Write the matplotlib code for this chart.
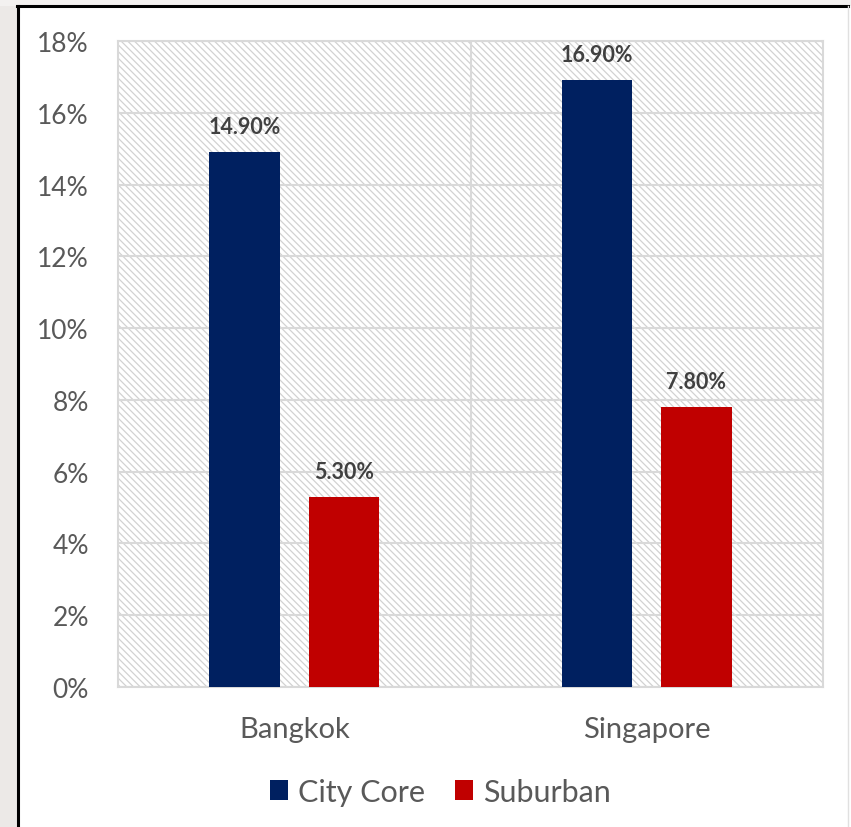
import numpy as np
import matplotlib
matplotlib.use("Agg")
import matplotlib.pyplot as plt
from matplotlib.patches import Rectangle
from matplotlib.lines import Line2D

cities = ["Bangkok", "Singapore"]
series_names = ["City Core", "Suburban"]
city_core = [14.9, 16.9]
suburban = [5.3, 7.8]
y_ticks = [0, 2, 4, 6, 8, 10, 12, 14, 16, 18]

NAVY = "#002060"
RED = "#C00000"
GRID = "#d9d9d9"
TEXT = "#595959"

plt.rcParams["font.family"] = ["Lato", "DejaVu Sans"]
plt.rcParams["hatch.linewidth"] = 0.9

fig = plt.figure(figsize=(8.51, 8.28), dpi=100)
fig.patch.set_facecolor("white")

# slide-style frame around the chart
fig.patches.append(Rectangle((0, 0), 17 / 851, 1, transform=fig.transFigure,
                             facecolor="#ece9e7", edgecolor="none", zorder=0))
fig.patches.append(Rectangle((0, 1 - 7 / 828), 1, 7 / 828, transform=fig.transFigure,
                             facecolor="#f3f1f0", edgecolor="none", zorder=0))
fig.lines.append(Line2D([18 / 851, 18 / 851], [0, 1 - 7 / 828], transform=fig.transFigure,
                        color="black", lw=2.2))
fig.lines.append(Line2D([17 / 851, 848 / 851], [1 - 7 / 828, 1 - 7 / 828],
                        transform=fig.transFigure, color="black", lw=2.2))
fig.lines.append(Line2D([848 / 851, 848 / 851], [0, 1 - 7 / 828], transform=fig.transFigure,
                        color="#e0e0e0", lw=1.0))

ax = fig.add_axes([118 / 851, 1 - 688 / 828, 705 / 851, 646 / 828])
ax.set_facecolor("white")

# hatched plot area background
ax.add_patch(Rectangle((0, 0), 1, 1, transform=ax.transAxes, facecolor="white",
                       edgecolor="#d2d2d2", linewidth=0, hatch="\\" * 5, zorder=0))

x = np.arange(len(cities))
width = 0.2
offset = 0.141

bars1 = ax.bar(x - offset, city_core, width, color=NAVY, label=series_names[0], zorder=3)
bars2 = ax.bar(x + offset, suburban, width, color=RED, label=series_names[1], zorder=3)

for bars, vals in [(bars1, city_core), (bars2, suburban)]:
    for b, v in zip(bars, vals):
        ax.annotate(f"{v:.2f}%", (b.get_x() + b.get_width() / 2, v),
                    xytext=(0, 11), textcoords="offset points",
                    ha="center", va="bottom", fontsize=15.5, fontweight="bold",
                    color="#404040", zorder=4)

ax.set_xlim(-0.5, 1.5)
ax.set_ylim(0, 18)
ax.set_yticks(y_ticks)
ax.set_yticklabels([f"{t}%" for t in y_ticks])
ax.set_xticks(x)
ax.set_xticklabels(cities)

ax.grid(axis="y", color=GRID, lw=1.5, zorder=1)
ax.axvline(0.5, color=GRID, lw=1.5, zorder=1)
ax.set_axisbelow(True)

for s in ax.spines.values():
    s.set_color(GRID)
    s.set_linewidth(1.5)

ax.tick_params(axis="both", length=0, colors=TEXT)
ax.tick_params(axis="y", pad=21, labelsize=19)
ax.tick_params(axis="x", pad=21, labelsize=21)

ax.legend(loc="upper center", bbox_to_anchor=(0.457, -0.098), ncol=2, frameon=False,
          fontsize=22, labelcolor=TEXT, handlelength=0.6, handleheight=0.6,
          handletextpad=0.3, columnspacing=1.0)

fig.savefig("out.png", dpi=100)
